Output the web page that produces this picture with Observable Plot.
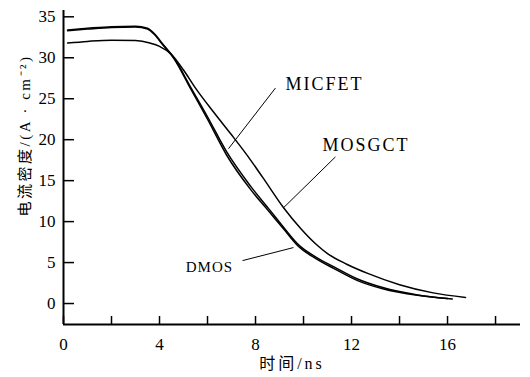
<!DOCTYPE html>
<html><head><meta charset="utf-8">
<script src="https://cdn.jsdelivr.net/npm/d3@7"></script>
<script src="https://cdn.jsdelivr.net/npm/@observablehq/plot@0.6"></script>
<style>body{margin:0;background:#fff} svg{display:block}</style>
</head><body><div id="chart"></div>
<script>
// Time (ns) and current density (A·cm^-2) for each device
const micfetT = [0.17, 1, 2, 3, 3.5, 3.8, 4.1, 4.6, 5.3, 6.0, 6.8, 7.8, 8.6, 9.2, 9.75, 10.5, 11.25, 12.25, 13.3, 14.75, 16.2];
const micfetV = [33.4, 33.6, 33.8, 33.85, 33.6, 32.9, 31.8, 30.0, 26.4, 22.8, 18.5, 14.3, 11.4, 9.2, 7.3, 5.7, 4.5, 3.0, 1.95, 1.05, 0.55];
const dmosT = [0.17, 1, 2, 3, 3.5, 3.8, 4.1, 4.6, 5.3, 6.0, 6.8, 7.8, 8.6, 9.2, 9.75, 10.5, 11.25, 12.25, 13.3, 14.75, 16.0];
const dmosV = [33.3, 33.5, 33.7, 33.75, 33.5, 32.8, 31.7, 29.9, 26.2, 22.5, 18.1, 13.9, 11.1, 9.0, 7.1, 5.5, 4.3, 2.8, 1.8, 1.0, 0.6];
const mosgctT = [0.17, 1, 2, 3, 3.6, 4.0, 4.5, 5.0, 5.5, 6.3, 7.0, 7.6, 8.3, 9.17, 9.9, 10.5, 11.0, 11.8, 12.7, 14.0, 15.4, 16.75];
const mosgctV = [31.8, 32.0, 32.15, 32.1, 31.8, 31.4, 30.4, 28.5, 26.3, 23.2, 20.6, 18.3, 15.4, 11.7, 9.1, 7.3, 6.1, 4.8, 3.65, 2.3, 1.3, 0.75];

const xTicks = [0, 2, 4, 6, 8, 10, 12, 14, 16, 18];
const yTicks = [0, 5, 10, 15, 20, 25, 30, 35];
const xLabel = "时间/ns";
const yLabel = "电流密度/(A · cm⁻²)";

// Annotation labels with leader lines (data units)
const labelNames = ["MICFET", "MOSGCT", "DMOS"];
const labelX = [10.875, 12.6, 6.08];
const labelY = [26.8, 19.3, 4.4];
const leadX1 = [8.83, 11.33, 7.46];
const leadY1 = [26.3, 17.9, 5.24];
const leadX2 = [6.875, 9.17, 9.58];
const leadY2 = [18.9, 11.7, 6.83];
const labelSize = [18, 18, 15];

const xDomain = [0, 19.04];
const yDomain = [-2.56, 35.77];

const rows = [];
micfetT.forEach((t, i) => rows.push({series: "MICFET", t, v: micfetV[i]}));
dmosT.forEach((t, i) => rows.push({series: "DMOS", t, v: dmosV[i]}));
mosgctT.forEach((t, i) => rows.push({series: "MOSGCT", t, v: mosgctV[i]}));

const ann = labelNames.map((name, i) => ({
  name, x: labelX[i], y: labelY[i], x1: leadX1[i], y1: leadY1[i], x2: leadX2[i], y2: leadY2[i], size: labelSize[i]
}));

const chart = Plot.plot({
  width: 530,
  height: 377,
  marginLeft: 63,
  marginRight: 10,
  marginTop: 10,
  marginBottom: 53,
  style: {fontFamily: "'Liberation Serif', 'Noto Sans CJK SC', serif", fontSize: "17px", color: "black", background: "white"},
  x: {domain: xDomain},
  y: {domain: yDomain},
  marks: [
    Plot.ruleX([xDomain[0]], {stroke: "black", strokeWidth: 2}),
    Plot.ruleY([yDomain[0]], {stroke: "black", strokeWidth: 2}),
    Plot.axisY({ticks: yTicks, tickSize: -11, tickPadding: 19, strokeWidth: 1.5, label: null}),
    Plot.axisX({ticks: xTicks, tickSize: -8, tickPadding: 21, strokeWidth: 1.5, label: null,
      tickFormat: d => d % 4 === 0 ? String(d) : ""}),
    Plot.line(rows, {x: "t", y: "v", z: "series", curve: "monotone-x", stroke: "black", strokeWidth: 1.5}),
    Plot.link(ann, {x1: "x1", y1: "y1", x2: "x2", y2: "y2", stroke: "black", strokeWidth: 1}),
    Plot.text(ann, {x: "x", y: "y", text: "name", fontSize: "size", fill: "black"}),
    Plot.text([xLabel], {frameAnchor: "bottom", dy: 44, fontSize: 16, fill: "black", textAnchor: "middle"}),
    Plot.text([yLabel], {frameAnchor: "left", dx: -38, dy: -32, rotate: -90, fontSize: 15, fill: "black", textAnchor: "middle"})
  ]
});
document.getElementById("chart").appendChild(chart);
// letter spacing for the scanned-looking labels
d3.select(chart).selectAll("text").each(function() {
  const t = this.textContent;
  if (t === "MICFET" || t === "MOSGCT") this.setAttribute("letter-spacing", "2");
  if (t === "DMOS") this.setAttribute("letter-spacing", "1");
  if (t === xLabel) this.setAttribute("letter-spacing", "3");
  if (t === yLabel) this.setAttribute("letter-spacing", "2.5");
});
</script>
</body></html>
